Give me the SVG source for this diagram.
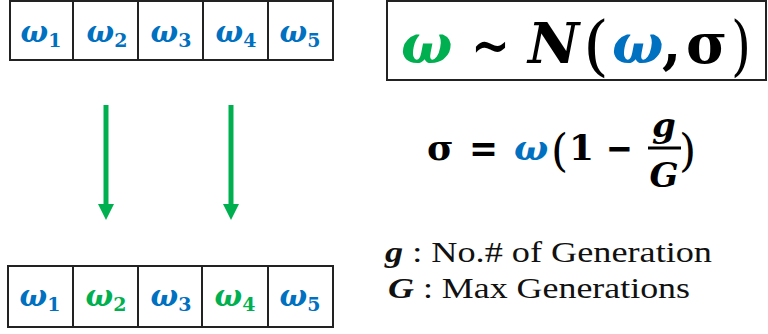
<svg xmlns="http://www.w3.org/2000/svg" width="768" height="334" viewBox="0 0 768 334">
<style>
.cell{fill:#fff;stroke:#222;stroke-width:2}
.w{font-family:"DejaVu Serif",serif;font-weight:bold;font-style:italic;font-size:29px}
.sub{font-family:"DejaVu Serif",serif;font-weight:bold;font-style:normal;font-size:19px}
.b{fill:#0070C0}
.g{fill:#00B050}
.m{font-family:"DejaVu Serif",serif;font-weight:bold;fill:#000}
.lg{font-family:"Liberation Serif","Times New Roman",serif;font-size:30px;fill:#111}
</style>
<defs>
<marker id="ah" viewBox="0 0 16 16" refX="2" refY="8" markerWidth="16" markerHeight="16" markerUnits="userSpaceOnUse" orient="auto">
<path d="M0,0 L16,8 L0,16 Z" fill="#00B050"/>
</marker>
</defs>
<g id="top-row">
<rect class="cell" x="10" y="1" width="63" height="59"/>
<rect class="cell" x="73" y="1" width="65" height="59"/>
<rect class="cell" x="138" y="1" width="65" height="59"/>
<rect class="cell" x="203" y="1" width="65" height="59"/>
<rect class="cell" x="268" y="1" width="65" height="59"/>
<text class="w b" x="41" y="42" text-anchor="middle">ω<tspan class="sub" dy="5">1</tspan></text>
<text class="w b" x="107" y="42" text-anchor="middle">ω<tspan class="sub" dy="5">2</tspan></text>
<text class="w b" x="171" y="42" text-anchor="middle">ω<tspan class="sub" dy="5">3</tspan></text>
<text class="w b" x="236" y="42" text-anchor="middle">ω<tspan class="sub" dy="5">4</tspan></text>
<text class="w b" x="300" y="42" text-anchor="middle">ω<tspan class="sub" dy="5">5</tspan></text>
</g>
<g id="bottom-row">
<rect class="cell" x="8" y="266" width="65" height="61"/>
<rect class="cell" x="73" y="266" width="65" height="61"/>
<rect class="cell" x="138" y="266" width="64" height="61"/>
<rect class="cell" x="202" y="266" width="66" height="61"/>
<rect class="cell" x="268" y="266" width="65" height="61"/>
<text class="w b" x="40" y="306" text-anchor="middle">ω<tspan class="sub" dy="5">1</tspan></text>
<text class="w g" x="106" y="306" text-anchor="middle">ω<tspan class="sub" dy="5">2</tspan></text>
<text class="w b" x="171" y="306" text-anchor="middle">ω<tspan class="sub" dy="5">3</tspan></text>
<text class="w g" x="235" y="306" text-anchor="middle">ω<tspan class="sub" dy="5">4</tspan></text>
<text class="w b" x="300" y="306" text-anchor="middle">ω<tspan class="sub" dy="5">5</tspan></text>
</g>
<g id="connectors">
<line x1="106" y1="105" x2="106" y2="206" stroke="#00B050" stroke-width="5" marker-end="url(#ah)"/>
<line x1="231" y1="105" x2="231" y2="206" stroke="#00B050" stroke-width="5" marker-end="url(#ah)"/>
</g>
<g id="formula-box">
<rect x="387" y="1" width="379" height="79" fill="#fff" stroke="#222" stroke-width="2"/>
<text class="m" font-size="54" y="63" font-style="italic" x="401" style="fill:#00B050">ω</text>
<text class="m" font-size="60" y="66" x="471" textLength="39" lengthAdjust="spacingAndGlyphs">∼</text>
<text class="m" font-size="56" y="63" font-style="italic" x="528">N</text>
<text class="m" font-size="66" y="68" x="583" textLength="26" lengthAdjust="spacingAndGlyphs" style="font-weight:normal">(</text>
<text class="m" font-size="54" y="63" font-style="italic" x="612" style="fill:#0070C0">ω</text>
<text class="m" font-size="56" y="63" x="662">,</text>
<text class="m" font-size="56" y="63" x="686">σ</text>
<text class="m" font-size="66" y="68" x="731" textLength="20" lengthAdjust="spacingAndGlyphs" style="font-weight:normal">)</text>
</g>
<g id="sigma-equation">
<text class="m" font-size="36" y="160" x="427">σ</text>
<text class="m" font-size="40" y="162" x="469" textLength="29" lengthAdjust="spacingAndGlyphs">=</text>
<text class="m" font-size="36" y="160" x="514" font-style="italic" style="fill:#0070C0">ω</text>
<text class="m" font-size="44" y="166" x="551" style="font-weight:normal">(</text>
<text class="m" font-size="36" y="160" x="569">1</text>
<text class="m" font-size="40" y="162" x="606" textLength="27" lengthAdjust="spacingAndGlyphs">−</text>
<text class="m" font-size="34" y="137" x="664" font-style="italic" text-anchor="middle">g</text>
<line x1="648" y1="148" x2="681" y2="148" stroke="#000" stroke-width="3"/>
<text class="m" font-size="34" y="187" x="664" font-style="italic" text-anchor="middle">G</text>
<text class="m" font-size="44" y="166" x="679" style="font-weight:normal">)</text>
</g>
<g id="legend">
<text class="lg" x="385" y="262" textLength="327" lengthAdjust="spacingAndGlyphs"><tspan font-weight="bold" font-style="italic">g</tspan> : No.# of Generation</text>
<text class="lg" x="388" y="298" textLength="302" lengthAdjust="spacingAndGlyphs"><tspan font-weight="bold" font-style="italic">G</tspan> : Max Generations</text>
</g>
</svg>
